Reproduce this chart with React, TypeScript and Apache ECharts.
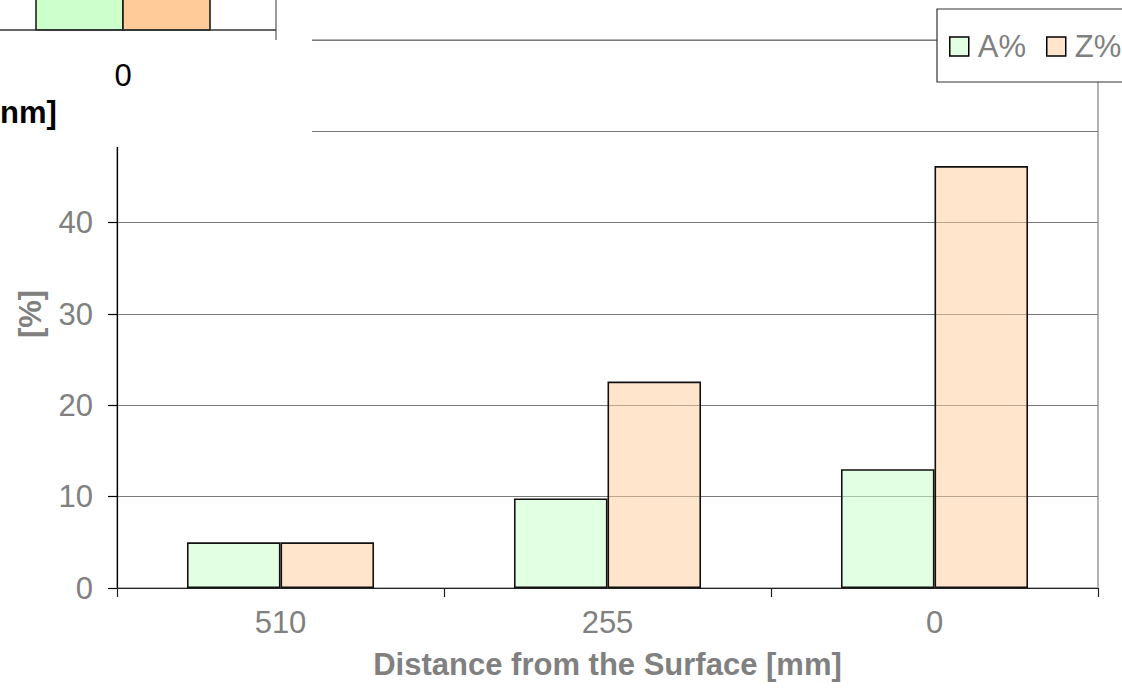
import React, { useEffect, useRef } from "react";
import * as echarts from "echarts";

const categories = ["510", "255", "0"];
const seriesA = [5, 9.8, 13];
const seriesZ = [5, 22.6, 46.2];
const seriesNames = ["A%", "Z%"];
const yTicks = { min: 0, max: 60, interval: 10 };

const FONT = '"Liberation Sans", Arial, sans-serif';
const GRAY = "#808080";
const FS = 31;

export default function App() {
  const ref = useRef<HTMLDivElement>(null);
  useEffect(() => {
    if (!ref.current) return;
    const chart = echarts.init(ref.current, undefined, { renderer: "svg" });
    chart.setOption({
      animation: false,
      backgroundColor: "#ffffff",
      textStyle: { fontFamily: FONT },
      grid: {
        left: 117,
        right: 24,
        top: 40,
        bottom: 101,
        show: true,
        borderColor: "#9a9a9a",
        borderWidth: 1.5,
        backgroundColor: "transparent",
      },
      legend: {
        left: 937,
        top: 9,
        width: 220,
        padding: [22, 30, 20, 12],
        itemWidth: 19,
        itemHeight: 19,
        itemGap: 20,
        icon: "rect",
        borderColor: "#333",
        borderWidth: 1.2,
        backgroundColor: "#fff",
        data: seriesNames,
        itemStyle: { borderColor: "#000", borderWidth: 1.5 },
        textStyle: {
          color: GRAY,
          fontSize: FS,
          fontFamily: FONT,
          padding: [0, 0, 0, 4],
        },
      },
      xAxis: {
        type: "category",
        data: categories,
        boundaryGap: true,
        axisLine: { show: true, lineStyle: { color: "#222", width: 1.2 } },
        axisTick: { show: true, length: 9, alignWithLabel: false, lineStyle: { color: "#222", width: 1.2 } },
        axisLabel: { color: GRAY, fontSize: FS, fontFamily: FONT, margin: 19 },
        name: "Distance from the Surface [mm]",
        nameLocation: "middle",
        nameGap: 61,
        nameTextStyle: { color: GRAY, fontSize: FS, fontWeight: "bold", fontFamily: FONT },
        splitLine: { show: false },
      },
      yAxis: {
        type: "value",
        min: yTicks.min,
        max: yTicks.max,
        interval: yTicks.interval,
        axisLine: { show: true, lineStyle: { color: "#000", width: 1.2 } },
        axisTick: { show: true, length: 9, lineStyle: { color: "#000", width: 1.2 } },
        axisLabel: { color: GRAY, fontSize: FS, fontFamily: FONT, margin: 24 },
        splitLine: { show: true, lineStyle: { color: "#7a7a7a", width: 1 } },
        name: "[%]",
        nameLocation: "middle",
        nameGap: 71,
        nameRotate: 90,
        nameTextStyle: { color: GRAY, fontSize: FS, fontWeight: "bold", fontFamily: FONT },
      },
      series: [
        {
          name: seriesNames[0],
          type: "bar",
          data: seriesA,
          barGap: "0%",
          barCategoryGap: "42.8%",
          itemStyle: { color: "rgba(204,255,204,0.55)", borderColor: "#111", borderWidth: 1.6 },
        },
        {
          name: seriesNames[1],
          type: "bar",
          data: seriesZ,
          barGap: "0%",
          barCategoryGap: "42.8%",
          itemStyle: { color: "rgba(255,204,153,0.5)", borderColor: "#111", borderWidth: 1.6 },
        },
      ],
      graphic: [
        {
          type: "group",
          z: 100,
          children: [
            { type: "rect", shape: { x: 0, y: 0, width: 312, height: 147 }, style: { fill: "#ffffff" }, z: 100 },
            { type: "rect", shape: { x: 36, y: -5, width: 87, height: 35 }, style: { fill: "#CCFFCC", stroke: "#111", lineWidth: 1.5 }, z: 101 },
            { type: "rect", shape: { x: 123, y: -5, width: 87, height: 35 }, style: { fill: "#FFCC99", stroke: "#111", lineWidth: 1.5 }, z: 101 },
            { type: "line", shape: { x1: 276, y1: 0, x2: 276, y2: 40 }, style: { stroke: "#9a9a9a", lineWidth: 2 }, z: 101 },
            { type: "line", shape: { x1: 0, y1: 30, x2: 276, y2: 30 }, style: { stroke: "#333", lineWidth: 1.5 }, z: 102 },
            {
              type: "text",
              x: 123,
              y: 75,
              style: { text: "0", fill: "#000", font: `${FS}px ${FONT}`, align: "center", verticalAlign: "middle" },
              z: 102,
            },
            {
              type: "text",
              x: 0,
              y: 112,
              style: { text: "nm]", fill: "#000", font: `bold ${FS}px ${FONT}`, align: "left", verticalAlign: "middle" },
              z: 102,
            },
          ],
        },
      ],
    });
    return () => chart.dispose();
  }, []);
  return (
    <div
      ref={ref}
      style={{ position: "fixed", left: 0, top: 0, width: 1122, height: 689, background: "#fff" }}
    />
  );
}
